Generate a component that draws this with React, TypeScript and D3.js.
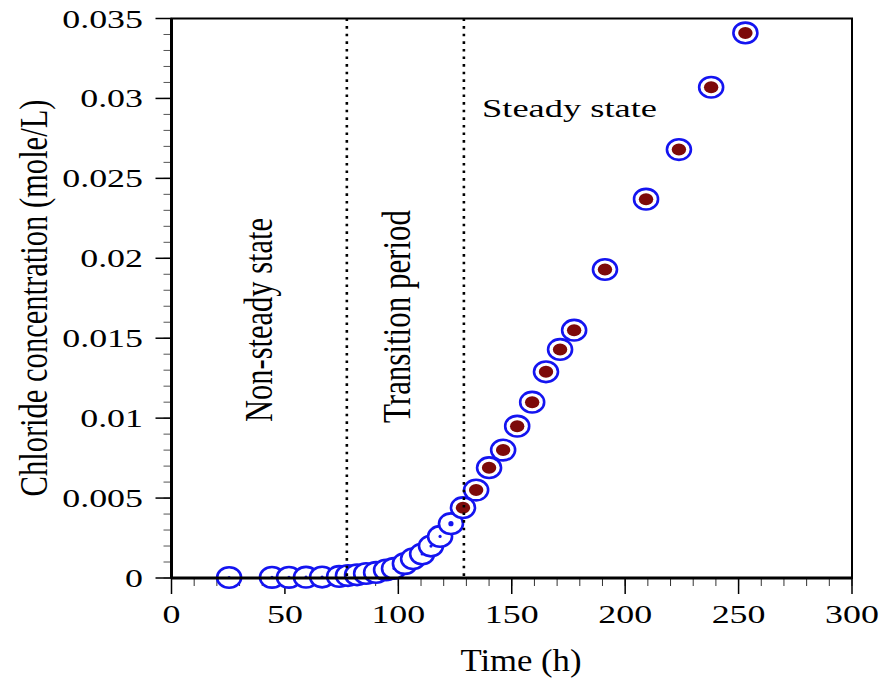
import React from "react";
import * as d3 from "d3";

// Time (h)
const timeH = [
  25.4, 44.3, 51.8, 59.3, 66.4, 73.9, 77.8, 81.8, 85.8, 90.2, 94.6, 98.1, 102.9,
  106.5, 110.5, 114.4, 118.4, 123.2, 128.5, 134.3, 140.0, 146.2, 152.4, 159.0,
  165.1, 171.3, 177.5, 191.1, 209.2, 223.7, 237.9, 253.0,
];
// Chloride concentration (mole/L)
const chloride = [
  0.00003, 0.00004, 0.00004, 0.00005, 0.00006, 0.0001, 0.00015, 0.0002, 0.00028,
  0.00035, 0.0005, 0.0006, 0.0009, 0.0012, 0.0015, 0.002, 0.0026, 0.0034,
  0.0044, 0.0055, 0.0069, 0.008, 0.0095, 0.011, 0.0129, 0.0143, 0.0155, 0.0193,
  0.0237, 0.0268, 0.0307, 0.0341,
];
// steady-state boundary: points from this time on are filled
const steadyFrom = 128;
const phaseBoundaries = [77.3, 128.9];

const xTicks = [0, 50, 100, 150, 200, 250, 300];
const xTickLabels = ["0", "50", "100", "150", "200", "250", "300"];
const yTicks = [0, 0.005, 0.01, 0.015, 0.02, 0.025, 0.03, 0.035];
const yTickLabels = ["0", "0.005", "0.01", "0.015", "0.02", "0.025", "0.03", "0.035"];

const FONT = "'Liberation Serif', 'Times New Roman', serif";
const tStyle = { fontFamily: FONT };

export default function App() {
  const left = 171.5, right = 852, top = 18.5, bottom = 578;
  const x = d3.scaleLinear().domain([0, 300]).range([left, right]);
  const y = d3.scaleLinear().domain([0, 0.035]).range([bottom, top]);
  const xMinor = d3.range(0, 301, 10);
  const yMinor = d3.range(0, 36).map((i) => i * 0.001);
  const pts = timeH.map((t, i) => ({ t, c: chloride[i] }));

  return (
    <svg
      width={892}
      height={678}
      style={{ position: "absolute", left: 0, top: 0, background: "#fff" }}
    >
      <rect x={0} y={0} width={892} height={678} fill="#fff" />
      {/* minor ticks */}
      {xMinor.map((v) => (
        <line key={"xm" + v} x1={x(v)} x2={x(v)} y1={bottom} y2={bottom + 8} stroke="#333" strokeWidth={1} />
      ))}
      {yMinor.map((v, i) => (
        <line key={"ym" + i} x1={left - 8} x2={left} y1={y(v)} y2={y(v)} stroke="#555" strokeWidth={1} />
      ))}
      {/* major ticks */}
      {xTicks.map((v) => (
        <line key={"xM" + v} x1={x(v)} x2={x(v)} y1={bottom} y2={bottom + 16} stroke="#000" strokeWidth={1.5} />
      ))}
      {yTicks.map((v) => (
        <line key={"yM" + v} x1={left - 16} x2={left} y1={y(v)} y2={y(v)} stroke="#000" strokeWidth={1.5} />
      ))}
      {/* tick labels */}
      {xTicks.map((v, i) => (
        <text
          key={"xl" + v}
          transform={`translate(${x(v)},623) scale(1.38,1)`}
          textAnchor="middle"
          fontSize={26}
          fill="#000"
          style={tStyle}
        >
          {xTickLabels[i]}
        </text>
      ))}
      {yTicks.map((v, i) => (
        <text
          key={"yl" + v}
          transform={`translate(143,${y(v) + 9}) scale(1.38,1)`}
          textAnchor="end"
          fontSize={26}
          fill="#000"
          style={tStyle}
        >
          {yTickLabels[i]}
        </text>
      ))}
      {/* points */}
      {pts.map((p, i) => (
        <g key={"p" + i} transform={`translate(${x(p.t)},${y(p.c)})`}>
          <ellipse rx={12} ry={10.3} fill="#fff" stroke="#1414f0" strokeWidth={2.6} />
          {p.t >= steadyFrom ? (
            <ellipse rx={7.2} ry={6} fill="#7d0a0a" />
          ) : (
            <circle r={i === 17 ? 2.6 : 1.6} fill="#1414f0" />
          )}
        </g>
      ))}
      {/* phase boundaries */}
      {phaseBoundaries.map((v) => (
        <line
          key={"pb" + v}
          x1={x(v)}
          x2={x(v)}
          y1={top}
          y2={bottom}
          stroke="#000"
          strokeWidth={2.6}
          strokeDasharray="2.6,5"
        />
      ))}
      {/* frame */}
      <rect x={left} y={top} width={right - left} height={bottom - top} fill="none" stroke="#000" strokeWidth={2} />
      <line x1={left} x2={left} y1={top} y2={bottom} stroke="#000" strokeWidth={3} />
      <line x1={left} x2={right} y1={bottom} y2={bottom} stroke="#000" strokeWidth={3} />
      {/* region labels */}
      <text
        transform={`translate(272,422) scale(1.34,1) rotate(-90)`}
        fontSize={30}
        textLength={204}
        lengthAdjust="spacingAndGlyphs"
        fill="#000"
        style={tStyle}
      >
        Non-steady state
      </text>
      <text
        transform={`translate(410,423) scale(1.34,1) rotate(-90)`}
        fontSize={30}
        textLength={213}
        lengthAdjust="spacingAndGlyphs"
        fill="#000"
        style={tStyle}
      >
        Transition period
      </text>
      <text x={482} y={117} fontSize={25} textLength={175} lengthAdjust="spacingAndGlyphs" fill="#000" style={tStyle}>
        Steady state
      </text>
      {/* axis titles */}
      <text
        x={521}
        y={671}
        textAnchor="middle"
        fontSize={31}
        textLength={121}
        lengthAdjust="spacingAndGlyphs"
        fill="#000"
        style={tStyle}
      >
        Time (h)
      </text>
      <text
        transform={`translate(47,298) scale(1.34,1) rotate(-90)`}
        textAnchor="middle"
        fontSize={30}
        textLength={397}
        lengthAdjust="spacingAndGlyphs"
        fill="#000"
        style={tStyle}
      >
        Chloride concentration (mole/L)
      </text>
    </svg>
  );
}
